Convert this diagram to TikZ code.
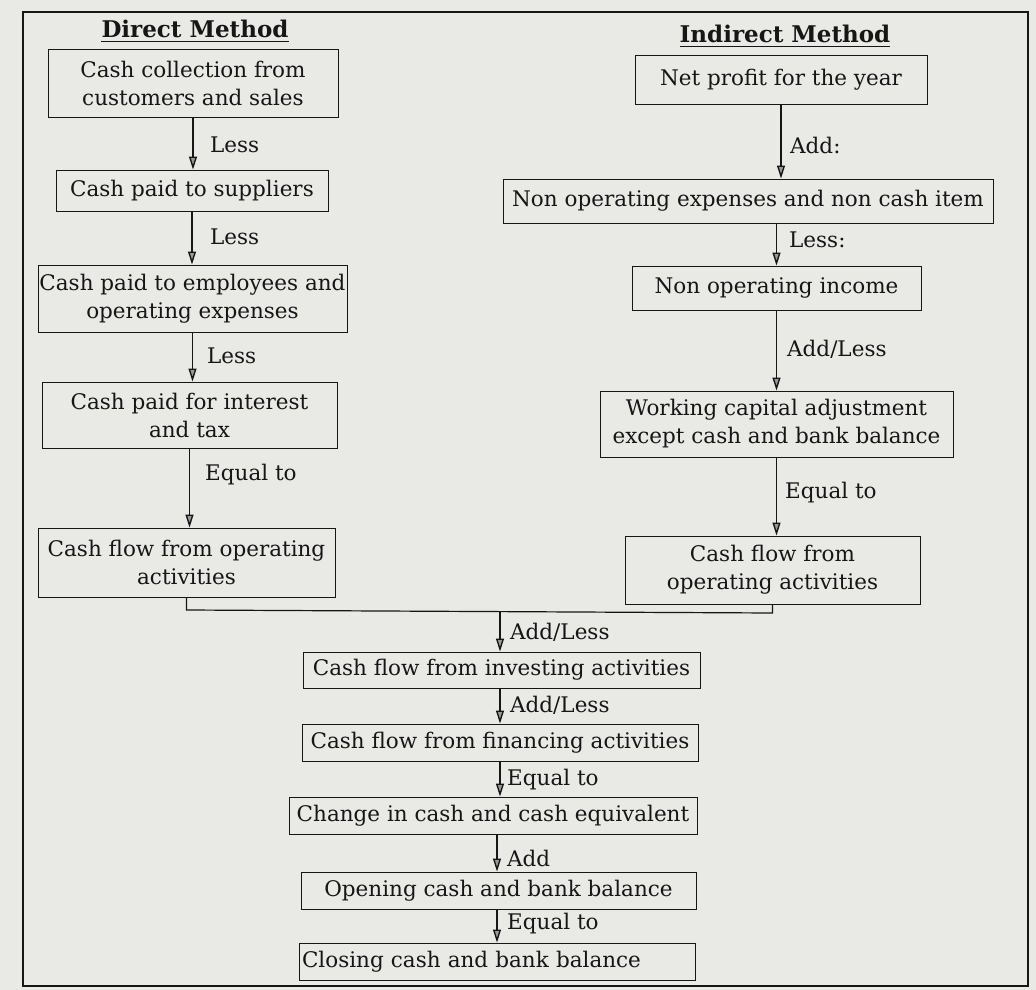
\documentclass[tikz,border=0pt]{standalone}
\usepackage{fontspec}
\setmainfont{DejaVu Serif}
\usetikzlibrary{arrows.meta}
\definecolor{paper}{RGB}{233,233,230}
\definecolor{ink}{RGB}{22,22,22}
\newcommand\bodyf{\fontsize{21.5}{28}\selectfont}
\newcommand\titlef{\fontsize{23}{27}\selectfont\bfseries}
\begin{document}
\begin{tikzpicture}[x=1pt,y=-1pt,
  box/.style={draw=ink, line width=1pt, inner sep=0pt, align=center, font=\bodyf, text=ink},
  lab/.style={anchor=west, inner sep=0pt, font=\bodyf, text=ink},
  ttl/.style={inner sep=0pt, font=\titlef, text=ink},
  arr/.style={draw=ink, line width=1.4pt, -{Triangle[length=13pt, width=8pt, fill=black!40]}},
  link/.style={draw=ink, line width=1.2pt}]
% background and frame
\fill[paper] (0,0) rectangle (1036,990);
\useasboundingbox (0,0) rectangle (1036,990);
\draw[ink, line width=2pt] (23,12) rectangle (1028,986);

% titles
\node[ttl] (tD) at (195,29) {Direct Method};
\node[ttl] (tI) at (785,34) {Indirect Method};
\draw[ink, line width=1.8pt] ([yshift=-4pt]tD.base west) -- ([yshift=-4pt]tD.base east);
\draw[ink, line width=1.8pt] ([yshift=-4pt]tI.base west) -- ([yshift=-4pt]tI.base east);

% direct method column
\node[box, minimum width=290pt, minimum height=67pt] (L1) at (193,83.5) {Cash collection from\\customers and sales};
\node[box, minimum width=272pt, minimum height=41pt] (L2) at (192,190.5) {Cash paid to suppliers};
\node[box, minimum width=309pt, minimum height=67pt] (L3) at (192.5,298.5) {Cash paid to employees and\\operating expenses};
\node[box, minimum width=295pt, minimum height=66pt] (L4) at (189.5,415) {Cash paid for interest\\and tax};
\node[box, minimum width=297pt, minimum height=69pt] (L5) at (186.5,562.5) {Cash flow from operating\\activities};

% indirect method column
\node[box, minimum width=292pt, minimum height=48pt] (R1) at (781,80) {Net profit for the year};
\node[box, minimum width=490pt, minimum height=44pt] (R2) at (748,201) {Non operating expenses and non cash item};
\node[box, minimum width=289pt, minimum height=44pt] (R3) at (776.5,288) {Non operating income};
\node[box, minimum width=353pt, minimum height=66pt] (R4) at (776.5,424) {Working capital adjustment\\except cash and bank balance};
\node[box, minimum width=295pt, minimum height=68pt] (R5) at (772.5,570) {Cash flow from\\operating activities};

% common column
\node[box, minimum width=397pt, minimum height=36pt] (C1) at (501.5,670) {Cash flow from investing activities};
\node[box, minimum width=396pt, minimum height=37pt] (C2) at (500,742.5) {Cash flow from financing activities};
\node[box, minimum width=408pt, minimum height=37pt] (C3) at (493,815.5) {Change in cash and cash equivalent};
\node[box, minimum width=395pt, minimum height=37pt] (C4) at (498.5,890.5) {Opening cash and bank balance};
\node[box, minimum width=396pt, minimum height=37pt, text width=390pt, align=left] (C5) at (497,961.5) {Closing cash and bank balance};

% direct arrows
\draw[arr] (L1.south) -- (L1.south |- L2.north);
\draw[arr] (L2.south) -- (L2.south |- L3.north);
\draw[arr] (L3.south) -- (L3.south |- L4.north);
\draw[arr] (L4.south) -- (L4.south |- L5.north);
\node[lab] (a1) at (210,145) {Less};
\node[lab] (a2) at (210,237) {Less};
\node[lab] (a3) at (207,356) {Less};
\node[lab] (a4) at (205,475) {Equal to};

% indirect arrows
\draw[arr] (R1.south) -- (R1.south |- R2.north);
\draw[arr] (R2.south -| R3.north) -- (R3.north);
\draw[arr] (R3.south) -- (R3.south |- R4.north);
\draw[arr] (R4.south) -- (R4.south |- R5.north);
\node[lab] (b1) at (790,145) {Add:};
\node[lab] (b2) at (789,240) {Less:};
\node[lab] (b3) at (787,349) {Add/Less};
\node[lab] (b4) at (785,493) {Equal to};

% merge connector
\coordinate (mL) at (186.5,610);
\coordinate (mR) at (772.5,613);
\coordinate (mA) at (500,611.5);
\draw[link] (L5.south) -- (mL) -- (mR) -- (R5.south);
\draw[arr] (mA) -- (mA |- C1.north);
\node[lab] (c0) at (510,632) {Add/Less};

% common arrows
\draw[arr] (C1.south -| mA) -- (C2.north -| mA);
\draw[arr] (C2.south -| mA) -- (C3.north -| mA);
\draw[arr] ([xshift=-3pt]C3.south -| mA) -- ([xshift=-3pt]C4.north -| mA);
\draw[arr] ([xshift=-3pt]C4.south -| mA) -- ([xshift=-3pt]C5.north -| mA);
\node[lab] (c1) at (510,705) {Add/Less};
\node[lab] (c2) at (507,780) {Equal to};
\node[lab] (c3) at (507,858) {Add};
\node[lab] (c4) at (507,924) {Equal to};
\end{tikzpicture}
\end{document}
